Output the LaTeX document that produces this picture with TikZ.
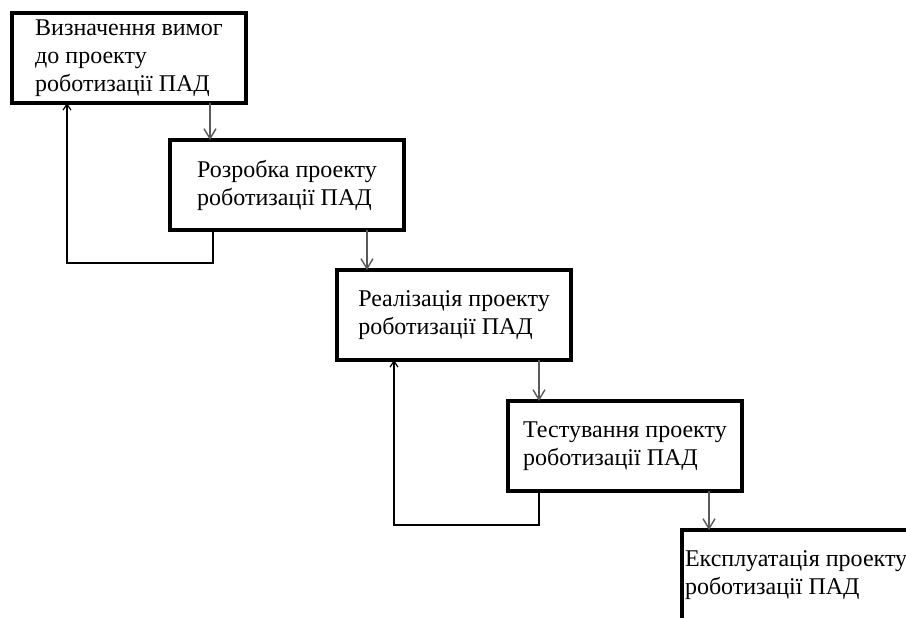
\documentclass[tikz,border=0pt]{standalone}
\usepackage{fontspec}
\setmainfont{Liberation Serif}
\usetikzlibrary{arrows.meta,positioning}
\definecolor{Flow}{HTML}{5A5A5A}

\begin{document}
\begin{tikzpicture}[
 stage/.style={draw=black,line width=2pt,fill=white,minimum width=117pt,minimum height=45pt,align=left,inner xsep=3pt,inner ysep=2pt,outer sep=0pt,font=\fontsize{12}{14}\selectfont},
 arrow/.style={-{Straight Barb[length=5pt,width=6pt]},line width=0.7pt,draw=Flow},
 feedback/.style={-{Straight Barb[length=3pt,width=4pt]},line width=0.6pt,draw=black}]
 \useasboundingbox (0,0) rectangle (453pt,-308.5pt);
 \clip (0,0) rectangle (453pt,-308.5pt);
 \node[stage,anchor=north west] (define) at (6pt,-6.5pt) {Визначення вимог\\до проекту\\роботизації ПАД};
 \node[stage,below right=18.5pt and 79pt of define.south west] (design) {Розробка проекту\\роботизації ПАД};
 \node[stage,below right=20pt and 83.5pt of design.south west] (build) {Реалізація проекту\\роботизації ПАД};
 \node[stage,below right=20.5pt and 85.5pt of build.south west] (test) {Тестування проекту\\роботизації ПАД};
 \node[stage,below right=19.5pt and 87pt of test.south west,minimum width=0pt,inner xsep=1.5pt] (operate) {Експлуатація проекту\\роботизації ПАД};
 \draw[arrow]([xshift=-18pt]define.south east)--([xshift=-18pt]define.south east |- design.north);
 \draw[arrow]([xshift=-18.5pt]design.south east)--([xshift=-18.5pt]design.south east |- build.north);
 \draw[arrow]([xshift=-16pt]build.south east)--([xshift=-16pt]build.south east |- test.north);
 \draw[arrow]([xshift=-16.5pt]test.south east)--([xshift=-16.5pt]test.south east |- operate.north);
 \draw[feedback]([xshift=21.5pt]design.south west)--++(0,-16.5pt)-|([xshift=27.5pt]define.south west);
 \draw[feedback]([xshift=15.5pt]test.south west)--++(0,-17pt)-|([xshift=28.5pt]build.south west);
\end{tikzpicture}
\end{document}
